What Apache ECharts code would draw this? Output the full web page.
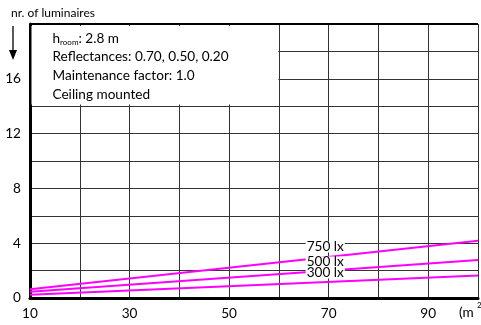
<!DOCTYPE html>
<html><head><meta charset="utf-8">
<script src="https://cdn.jsdelivr.net/npm/echarts@6/dist/echarts.min.js"></script>
<style>html,body{margin:0;padding:0;background:#fff}#c{width:481px;height:325px}</style>
</head><body><div id="c"></div>
<script>
const areas = [10, 100];
const lux750 = [0.63, 4.18];
const lux500 = [0.46, 2.77];
const lux300 = [0.24, 1.65];
const seriesNames = ['750 lx', '500 lx', '300 lx'];
const labelX = 69.3;
const labelY = [3.72, 2.63, 1.82];
const xTicks = [10, 30, 50, 70, 90];
const yTicks = [0, 4, 8, 12, 16];
const infoLines = ['Reflectances: 0.70, 0.50, 0.20', 'Maintenance factor: 1.0', 'Ceiling mounted'];

const FONT = 'Lato';
const FS = 13.6;
const chart = echarts.init(document.getElementById('c'));
const values = [lux750, lux500, lux300];
const series = values.map((v, i) => ({
  type: 'line', name: seriesNames[i],
  data: areas.map((a, j) => [a, v[j]]),
  symbol: 'none', lineStyle: {color: '#ff00ff', width: 2}, z: 3,
  markPoint: {
    symbol: 'circle', symbolSize: 0, silent: true,
    data: [{coord: [labelX, labelY[i]], value: seriesNames[i]}],
    label: {show: true, position: 'inside', formatter: seriesNames[i], color: '#000',
      fontFamily: FONT, fontSize: FS, backgroundColor: '#fff', padding: [0, 1, -1, 1], lineHeight: 12}
  }
}));
series[0].markArea = {
  silent: true,
  itemStyle: {color: '#fff'},
  data: [[{coord: [10.3, 14.12]}, {coord: [59.9, 19.85]}]],
  label: {show: true, position: 'insideTopLeft', offset: [16, -2],
    fontFamily: FONT, fontSize: FS, color: '#000', lineHeight: 18.7,
    formatter: '{a|h}{s|room}{a|: 2.8 m}\n' + infoLines.join('\n'),
    rich: {a: {fontFamily: FONT, fontSize: FS, color: '#000', lineHeight: 18.7}, s: {fontFamily: FONT, fontSize: 8, color: '#000', padding: [8, 0, 0, 0], lineHeight: 18.7}}
  }
};
series[0].markLine = {
  silent: true, symbol: 'none', label: {show: false},
  lineStyle: {color: '#000', width: 2, type: 'solid'},
  data: [{yAxis: 20}]
};
chart.setOption({
  animation: false,
  grid: {left: 30, right: 0, top: 24, bottom: 27},
  xAxis: {
    type: 'value', min: 10, max: 100, interval: 10,
    axisLine: {show: true, onZero: false, lineStyle: {color: '#000', width: 3}},
    axisTick: {show: false},
    axisLabel: {color: '#000', fontFamily: FONT, fontSize: FS, margin: 9,
      formatter: v => xTicks.includes(v) ? String(v) : ''},
    splitLine: {show: true, lineStyle: {color: '#333', width: 1}}
  },
  yAxis: {
    type: 'value', min: 0, max: 20, interval: 2,
    axisLine: {show: true, onZero: false, lineStyle: {color: '#000', width: 3}},
    axisTick: {show: false},
    axisLabel: {color: '#000', fontFamily: FONT, fontSize: FS, margin: 9,
      formatter: v => yTicks.includes(v) ? String(v) : ''},
    splitLine: {show: true, lineStyle: {color: '#333', width: 1}}
  },
  graphic: [
    {type: 'text', left: 11, top: 7, style: {text: 'nr. of luminaires', font: '12px ' + FONT, fill: '#000'}},
    {type: 'line', shape: {x1: 13, y1: 26, x2: 13, y2: 52}, style: {stroke: '#000', lineWidth: 1.3}},
    {type: 'polygon', shape: {points: [[9, 50], [17, 50], [13, 60]]}, style: {fill: '#000'}},
    {type: 'text', left: 459, top: 306, style: {text: '(m', font: FS + 'px ' + FONT, fill: '#000'}},
    {type: 'text', left: 477, top: 301, style: {text: '2', font: '8px ' + FONT, fill: '#000'}}
  ],
  series: series
});
</script></body></html>
